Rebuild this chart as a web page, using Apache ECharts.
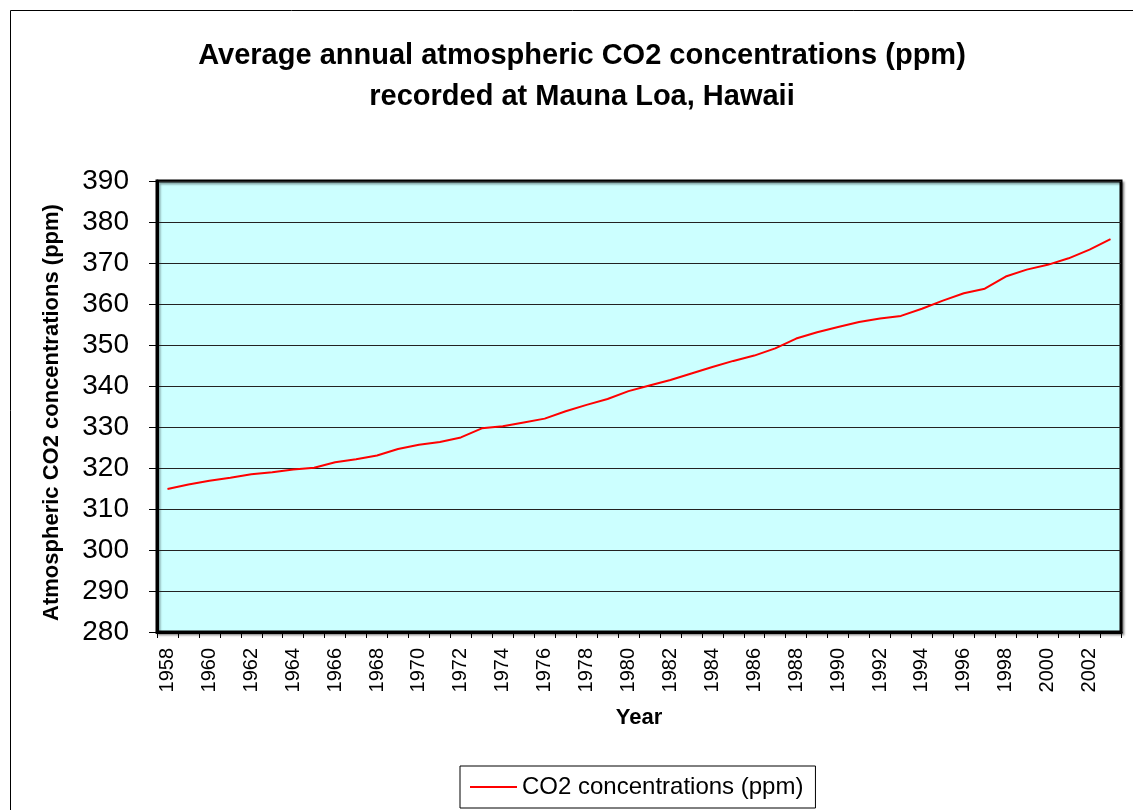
<!DOCTYPE html>
<html>
<head>
<meta charset="utf-8">
<script src="https://cdn.jsdelivr.net/npm/echarts@6/dist/echarts.min.js"></script>
<style>
html,body{margin:0;padding:0;background:#fff;}
#chart{width:1133px;height:810px;}
</style>
</head>
<body>
<div id="chart"></div>
<script>
const years = ['1958','1959','1960','1961','1962','1963','1964','1965','1966','1967','1968','1969','1970','1971','1972','1973','1974','1975','1976','1977','1978','1979','1980','1981','1982','1983','1984','1985','1986','1987','1988','1989','1990','1991','1992','1993','1994','1995','1996','1997','1998','1999','2000','2001','2002','2003'];
const co2 = [314.9,315.98,316.91,317.64,318.45,318.99,319.62,320.04,321.38,322.16,323.04,324.62,325.68,326.32,327.45,329.68,330.18,331.11,332.04,333.83,335.40,336.84,338.75,340.11,341.45,343.05,344.65,346.12,347.42,349.19,351.57,353.12,354.39,355.61,356.45,357.10,358.83,360.82,362.61,363.73,366.70,368.38,369.55,371.14,373.28,375.80];
const yTicks = {min:280, max:390, step:10};
const seriesName = 'CO2 concentrations (ppm)';

const chart = echarts.init(document.getElementById('chart'), null, {renderer:'canvas'});
const font = 'Arial, "Liberation Sans", sans-serif';
chart.setOption({
  animation:false,
  backgroundColor:'#fff',
  textStyle:{fontFamily:font},
  graphic:[{
    type:'rect', z:-10, silent:true,
    shape:{x:10.5,y:10.5,width:1200,height:900},
    style:{fill:'#fff',stroke:'#000',lineWidth:1}
  }],
  title:{
    text:'Average annual atmospheric CO2 concentrations (ppm)\nrecorded at Mauna Loa, Hawaii',
    left:577, top:30, textAlign:'center',
    textStyle:{fontFamily:font,fontWeight:'bold',fontSize:29,lineHeight:41,color:'#000'}
  },
  grid:{
    left:157, right:12, top:181, bottom:178,
    show:true, backgroundColor:'#ccffff', borderColor:'#000', borderWidth:3,
    shadowColor:'rgba(0,0,0,0.35)', shadowBlur:2, shadowOffsetX:2, shadowOffsetY:2
  },
  legend:{
    left:460, top:766, orient:'horizontal',
    backgroundColor:'#fff', borderColor:'#000', borderWidth:1, borderRadius:0,
    padding:[9,12,9,10], itemWidth:47, itemHeight:14,
    textStyle:{fontFamily:font,fontSize:24,color:'#000'},
    data:[{name:seriesName, icon:'path://M0,6 L47,6 L47,8 L0,8 Z', itemStyle:{color:'#ff0000'}}]
  },
  xAxis:{
    type:'category', data:years, boundaryGap:true,
    name:'Year', nameLocation:'middle', nameGap:75,
    nameTextStyle:{fontFamily:font,fontWeight:'bold',fontSize:22,color:'#000'},
    axisLine:{show:true,lineStyle:{color:'#000',width:3}},
    axisTick:{show:true,interval:0,length:6,lineStyle:{color:'#000',width:1}},
    axisLabel:{interval:1,rotate:90,margin:16,fontSize:20,color:'#000',fontFamily:font},
    splitLine:{show:false}
  },
  yAxis:{
    type:'value', min:yTicks.min, max:yTicks.max, interval:yTicks.step,
    name:'Atmospheric CO2 concentrations (ppm)', nameLocation:'middle', nameGap:94,
    nameTextStyle:{fontFamily:font,fontWeight:'bold',fontSize:22,color:'#000',padding:[0,12,0,0]},
    axisLine:{show:true,lineStyle:{color:'#000',width:3}},
    axisTick:{show:true,length:8,lineStyle:{color:'#000',width:1}},
    axisLabel:{margin:28,fontSize:28,color:'#000',fontFamily:font},
    splitLine:{show:true,lineStyle:{color:'#222',width:1}}
  },
  series:[{
    name:seriesName, type:'line', data:co2, symbol:'none',
    lineStyle:{color:'#ff0000',width:2}, itemStyle:{color:'#ff0000'}
  }]
});
</script>
</body>
</html>
